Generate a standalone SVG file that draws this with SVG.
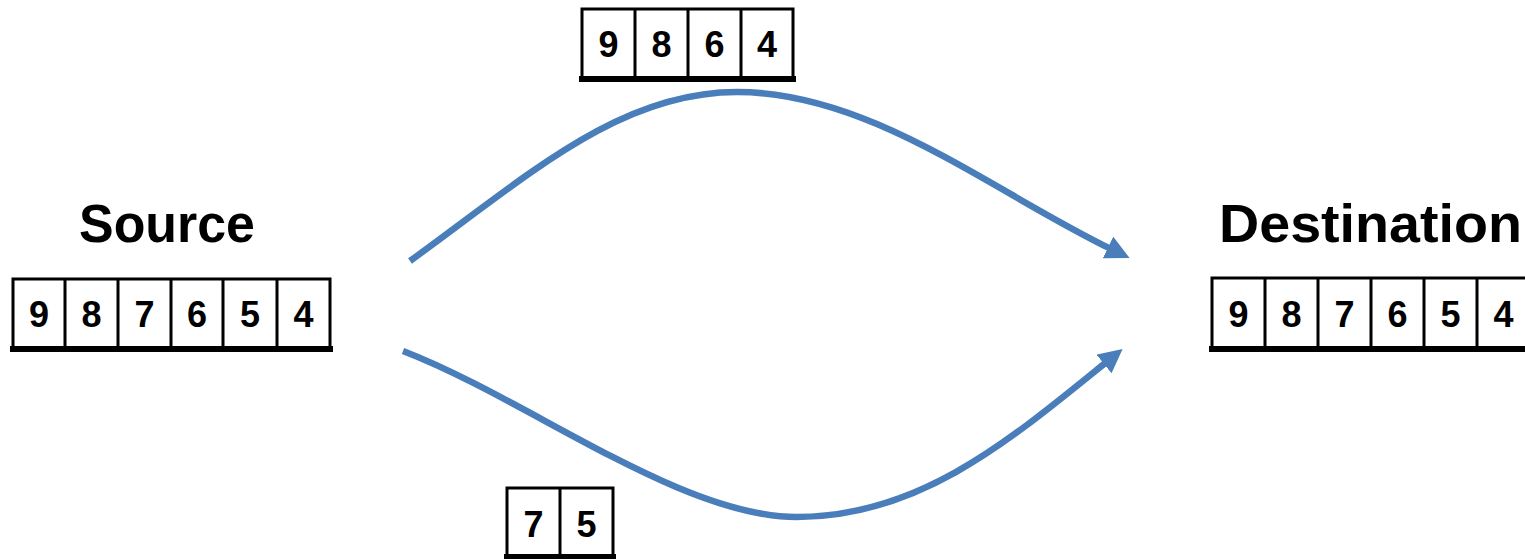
<svg xmlns="http://www.w3.org/2000/svg" width="1525" height="559" viewBox="0 0 1525 559">
<style>
.cell{fill:#fff;stroke:#000;stroke-width:3}
.base{stroke:#000;stroke-width:6}
.div{stroke:#000;stroke-width:3}
.dg{font-family:"Liberation Sans",Arial,sans-serif;font-weight:bold;font-size:36px;fill:#000;text-anchor:middle}
.ttl{font-family:"Liberation Sans",Arial,sans-serif;font-weight:bold;font-size:54px;fill:#000}
.conn{fill:none;stroke:#4A7EBB;stroke-width:6.5}
</style>
<defs>
<marker id="arr" markerUnits="userSpaceOnUse" markerWidth="24" markerHeight="24" refX="3" refY="12" orient="auto" viewBox="0 0 24 24">
<path d="M0,0 L24,12 L0,24 z" fill="#4A7EBB"/>
</marker>
</defs>
<g id="source">
<text class="ttl" x="79" y="242" textLength="176" lengthAdjust="spacingAndGlyphs">Source</text>
<rect class="cell" x="13" y="279" width="317" height="70"/>
<line class="base" x1="10" y1="349" x2="333" y2="349"/>
<path class="div" d="M65,279V349M118,279V349M171,279V349M223,279V349M277,279V349"/>
<text class="dg" x="39" y="327">9</text>
<text class="dg" x="91.5" y="327">8</text>
<text class="dg" x="144.5" y="327">7</text>
<text class="dg" x="197" y="327">6</text>
<text class="dg" x="250" y="327">5</text>
<text class="dg" x="303.5" y="327">4</text>
</g>
<g id="destination">
<text class="ttl" x="1219" y="242" textLength="303" lengthAdjust="spacingAndGlyphs">Destination</text>
<rect class="cell" x="1212" y="278" width="330" height="71"/>
<line class="base" x1="1209" y1="349" x2="1530" y2="349"/>
<path class="div" d="M1265,278V349M1318,278V349M1371,278V349M1424,278V349M1477,278V349"/>
<text class="dg" x="1238.5" y="327">9</text>
<text class="dg" x="1291.5" y="327">8</text>
<text class="dg" x="1344.5" y="327">7</text>
<text class="dg" x="1397.5" y="327">6</text>
<text class="dg" x="1450.5" y="327">5</text>
<text class="dg" x="1503.5" y="327">4</text>
</g>
<g id="upper-packets">
<rect class="cell" x="582" y="9" width="211" height="70"/>
<line class="base" x1="579" y1="79" x2="796" y2="79"/>
<path class="div" d="M635,9V79M688,9V79M741,9V79"/>
<text class="dg" x="608.5" y="57">9</text>
<text class="dg" x="661.5" y="57">8</text>
<text class="dg" x="714.5" y="57">6</text>
<text class="dg" x="767" y="57">4</text>
</g>
<g id="lower-packets">
<rect class="cell" x="507" y="488" width="106" height="69"/>
<line class="base" x1="504" y1="557" x2="616" y2="557"/>
<path class="div" d="M560,488V557"/>
<text class="dg" x="533.5" y="537">7</text>
<text class="dg" x="586.5" y="537">5</text>
</g>
<g id="connectors">
<path class="conn" marker-end="url(#arr)" d="M410,261 C530,174 620,92 737,92 C870,92 990,190 1110.7,248.8"/>
<path class="conn" marker-end="url(#arr)" d="M403,351 C530,400 680,517 797,517 C920,517 1010,440 1106.3,362.1"/>
</g>
</svg>
